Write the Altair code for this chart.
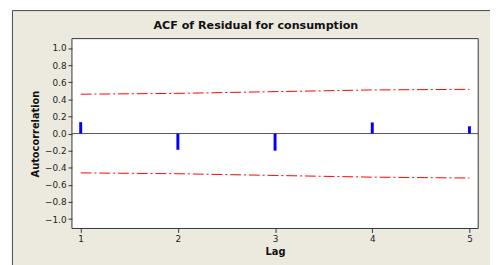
import altair as alt
import pandas as pd

lags = [1, 2, 3, 4, 5]
acf = [0.133, -0.19, -0.20, 0.13, 0.085]
upper = [0.46, 0.47, 0.49, 0.51, 0.517]
lower = [-0.46, -0.47, -0.49, -0.51, -0.52]
ytick_values = [-1.0, -0.8, -0.6, -0.4, -0.2, 0.0, 0.2, 0.4, 0.6, 0.8, 1.0]
title_text = "ACF of Residual for consumption"

bars = pd.DataFrame({"lag": lags, "acf": acf, "zero": [0] * len(lags)})
lims = pd.DataFrame({
    "lag": lags * 2,
    "val": upper + lower,
    "which": ["upper"] * 5 + ["lower"] * 5,
})

W, H = 413, 193
FONT = "DejaVu Sans"

xs = alt.Scale(domain=[0.91, 5.09], nice=False, zero=False)
ys = alt.Scale(domain=[-1.11, 1.11], nice=False)

xaxis = alt.Axis(values=lags, format="d", title="Lag", labelPadding=2,
                 titlePadding=3, zindex=1, labelOverlap=False)
yaxis = alt.Axis(values=ytick_values, format=".1f", title="Autocorrelation",
                 labelOverlap=False, labelPadding=2, titlePadding=4, zindex=1)

frame = alt.Chart(pd.DataFrame({"a": [0]})).mark_rect(
    fill="#ECE9DF", stroke="#444444", strokeWidth=1, clip=False
).encode(
    x=alt.value(-60.5), x2=alt.value(W + 40),
    y=alt.value(-28.5), y2=alt.value(H + 60),
)

plotbg = alt.Chart(pd.DataFrame({"a": [0]})).mark_rect(
    fill="white", stroke="#333333", strokeWidth=1
).encode(
    x=alt.value(0), x2=alt.value(W), y=alt.value(0), y2=alt.value(H)
)

title = alt.Chart(pd.DataFrame({"t": [title_text]})).mark_text(
    font=FONT, fontSize=11.3, fontWeight="bold", color="#111111",
    align="center", baseline="alphabetic",
).encode(text="t:N", x=alt.value(187), y=alt.value(-10))

zero = alt.Chart(pd.DataFrame({"z": [0]})).mark_rule(
    color="#555555", strokeWidth=1
).encode(y=alt.Y("z:Q", scale=ys, axis=yaxis))

limit_lines = alt.Chart(lims).mark_line(
    color="#FF0000", strokeWidth=1, strokeDash=[11, 3, 2, 3]
).encode(
    x=alt.X("lag:Q", scale=xs, axis=xaxis),
    y=alt.Y("val:Q", scale=ys, axis=yaxis),
    detail="which:N",
)

spikes = alt.Chart(bars).mark_rule(color="#0000FF", strokeWidth=3).encode(
    x=alt.X("lag:Q", scale=xs, axis=xaxis),
    y=alt.Y("zero:Q", scale=ys, axis=yaxis),
    y2="acf:Q",
)

chart = alt.layer(frame, plotbg, title, zero, limit_lines, spikes).properties(
    width=W, height=H,
    autosize=alt.AutoSizeParams(type="none"),
    padding={"left": 65, "top": 29, "right": 12, "bottom": 35},
).configure(background="white").configure_view(stroke=None).configure_axis(
    grid=False, domain=False, tickSize=4, tickColor="#333333",
    labelFontSize=9, labelFont=FONT, labelColor="#222222",
    titleFont=FONT, titleFontSize=10, titleFontWeight="bold", titleColor="#111111",
)

chart.save("out.html", embed_options={"renderer": "svg", "actions": False})
